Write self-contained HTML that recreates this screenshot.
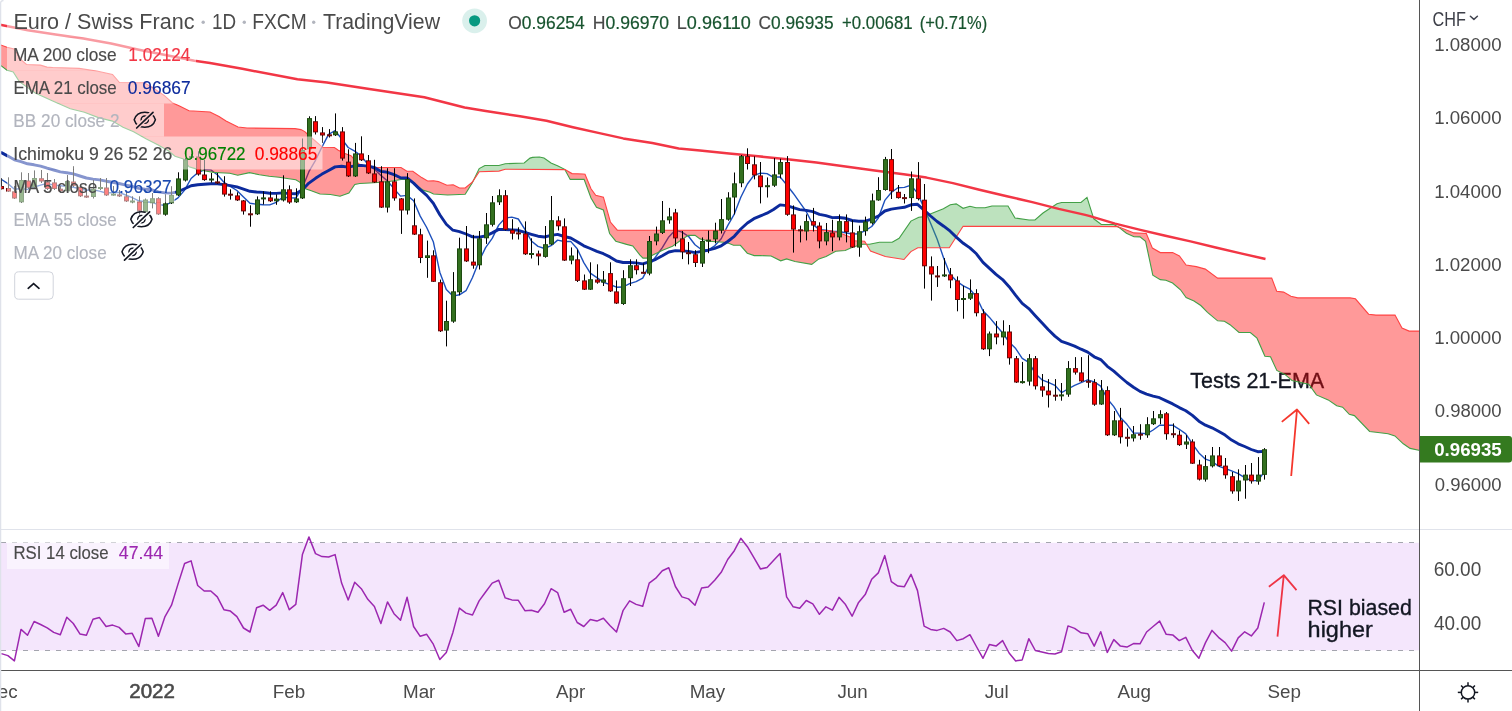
<!DOCTYPE html>
<html><head><meta charset="utf-8"><style>
html,body{margin:0;padding:0;background:#fff;}
body{width:1512px;height:711px;overflow:hidden;}
svg{display:block;will-change:transform;}
text{font-family:"Liberation Sans",sans-serif;}
.ann{font-weight:normal;}
</style></head><body>
<svg width="1512" height="711" viewBox="0 0 1512 711">
<defs><mask id="eyecut" maskUnits="userSpaceOnUse" x="-20" y="-20" width="40" height="40"><rect x="-20" y="-20" width="40" height="40" fill="#fff"/><path d="M-12,11.6 L12,-11" stroke="#000" stroke-width="4.6"/></mask></defs>
<rect width="1512" height="711" fill="#fff"/>
<rect x="0" y="542.8" width="1419.5" height="107.6" fill="#f4e6fc"/>
<path d="M1,542.5 H1419" stroke="#9598a1" stroke-width="1" stroke-dasharray="5,6" opacity="0.85"/>
<path d="M1,650.5 H1419" stroke="#9598a1" stroke-width="1" stroke-dasharray="5,6" opacity="0.85"/>
<path d="M0.0,178.5 L7.9,183.6 L14.4,189.2 L21.0,188.6 L27.5,189.4 L34.1,187.2 L40.6,185.2 L47.2,183.3 L53.7,185.1 L60.3,185.8 L66.8,186.4 L73.3,187.2 L79.9,188.7 L86.4,190.3 L93.0,189.8 L99.5,191.1 L106.1,193.0 L112.6,192.6 L119.1,192.4 L125.7,195.0 L132.2,197.7 L138.8,200.8 L145.3,201.8 L151.9,202.2 L158.4,204.8 L165.0,205.3 L171.5,202.1 L178.0,197.9 L184.6,190.1 L191.1,178.5 L197.7,172.8 L204.2,169.8 L210.8,169.9 L217.3,174.7 L223.9,182.3 L230.4,186.4 L236.9,190.5 L243.5,197.0 L250.0,203.3 L256.6,204.2 L263.1,204.7 L269.7,204.9 L276.2,202.3 L282.7,197.2 L289.3,197.8 L295.8,198.0 L302.4,187.8 L308.9,171.7 L315.5,160.3 L322.0,146.9 L328.6,134.4 L335.1,130.6 L341.6,138.7 L348.2,147.5 L354.7,151.1 L361.3,156.0 L367.8,164.4 L374.4,169.2 L380.9,175.4 L387.5,181.0 L394.0,188.6 L400.5,196.1 L407.1,195.4 L413.6,200.8 L420.2,216.1 L426.7,227.5 L433.3,241.7 L439.8,272.2 L446.3,289.5 L452.9,296.1 L459.4,294.8 L466.0,290.7 L472.5,277.5 L479.1,261.0 L485.6,247.6 L492.2,238.4 L498.7,225.1 L505.2,218.0 L511.8,217.1 L518.3,219.0 L524.9,229.4 L531.4,241.0 L538.0,246.4 L544.5,248.5 L551.1,245.7 L557.6,240.1 L564.1,241.5 L570.7,241.4 L577.2,248.7 L583.8,262.6 L590.3,273.2 L596.9,277.6 L603.4,282.4 L609.9,284.5 L616.5,287.2 L623.0,287.0 L629.6,283.6 L636.1,281.7 L642.7,278.1 L649.2,265.6 L655.8,256.6 L662.3,247.7 L668.8,236.9 L675.4,229.9 L681.9,232.2 L688.5,236.3 L695.0,244.8 L701.6,249.8 L708.1,250.1 L714.7,245.8 L721.2,238.7 L727.7,225.6 L734.3,214.1 L740.8,197.3 L747.4,184.0 L753.9,175.3 L760.5,173.2 L767.0,173.6 L773.5,177.3 L780.1,176.9 L786.6,184.7 L793.2,193.2 L799.7,202.4 L806.3,211.7 L812.8,224.4 L819.4,229.8 L825.9,230.3 L832.4,231.5 L839.0,231.5 L845.5,232.8 L852.1,234.0 L858.6,233.9 L865.2,230.7 L871.7,226.5 L878.3,218.1 L884.8,200.4 L891.3,192.5 L897.9,187.8 L904.4,187.4 L911.0,185.1 L917.5,193.1 L924.1,208.1 L930.6,223.3 L937.1,239.0 L943.7,258.2 L950.2,274.5 L956.8,281.2 L963.3,285.9 L969.9,289.2 L976.4,296.9 L983.0,310.7 L989.5,317.4 L996.0,325.3 L1002.6,333.0 L1009.1,342.0 L1015.7,348.6 L1022.2,358.3 L1028.8,362.4 L1035.3,373.4 L1041.9,379.8 L1048.4,382.4 L1054.9,385.3 L1061.5,392.6 L1068.0,389.0 L1074.6,385.4 L1081.1,382.6 L1087.7,379.8 L1094.2,381.8 L1100.7,386.2 L1107.3,398.8 L1113.8,406.6 L1120.4,417.6 L1126.9,424.3 L1133.5,433.1 L1140.0,433.1 L1146.6,433.8 L1153.1,430.0 L1159.6,425.2 L1166.2,425.2 L1172.7,425.1 L1179.3,429.3 L1185.8,433.9 L1192.4,443.8 L1198.9,452.9 L1205.5,459.2 L1212.0,461.3 L1218.5,466.2 L1225.1,468.5 L1231.6,470.9 L1238.2,473.7 L1244.7,477.6 L1251.3,480.6 L1257.8,480.5 L1264.3,472.0" fill="none" stroke="#1d50bc" stroke-width="1.4" stroke-linejoin="round"/>
<text x="1190.16" y="387.8" font-size="22.40" font-weight="normal" textLength="134.03" lengthAdjust="spacingAndGlyphs" stroke="#131722" stroke-width="0.35"><tspan fill="#131722">Tests 21-EMA</tspan></text>
<path d="M0.0,64.9 L7.0,70.2 L13.2,71.9 L14.0,73.2 L19.3,81.6 L21.2,83.0 L26.5,86.8 L35.2,93.0 L40.4,95.3 L47.0,98.3 L52.7,100.9 L70.3,108.8 L79.1,111.0 L84.4,112.3 L96.7,117.0 L98.4,117.6 L112.5,121.1 L119.5,125.2 L123.0,127.3 L133.6,131.7 L144.1,137.7 L145.9,138.7 L152.9,142.2 L158.2,144.9 L164.4,148.5 L168.7,151.0 L172.3,154.0 L175.0,156.2 L180.0,157.8 L183.5,159.0 L189.0,166.8 L196.0,168.9 L205.3,171.0 L210.0,171.8 L213.7,172.4 L219.0,172.7 L220.0,172.8 L226.0,173.1 L229.8,173.3 L237.7,175.3 L238.0,175.2 L247.0,173.2 L249.5,172.6 L259.4,174.8 L269.2,176.2 L279.0,177.2 L288.9,178.7 L295.0,179.6 L295.8,179.7 L299.7,182.1 L300.9,183.7 L304.6,188.5 L304.8,188.6 L307.8,189.6 L310.6,190.5 L313.0,191.4 L320.0,194.0 L322.6,194.1 L330.5,194.5 L334.4,195.2 L338.3,196.0 L340.0,196.3 L344.2,194.8 L348.9,193.1 L351.0,190.0 L354.0,185.6 L354.8,184.4 L359.0,183.6 L359.7,183.5 L364.0,183.3 L369.5,183.0 L377.4,182.5 L389.2,181.5 L401.0,179.5 L406.9,179.5 L408.9,179.5 L412.8,182.7 L414.8,184.4 L421.7,189.1 L423.7,190.4 L427.6,191.5 L430.0,192.2 L433.5,194.0 L438.4,194.3 L446.9,195.0 L447.6,195.0 L453.2,194.7 L459.5,194.5 L465.2,194.2 L472.2,183.0 L473.5,180.4 L473.5,180.4 L472.2,182.3 L465.2,188.0 L459.5,188.0 L453.2,184.8 L447.6,185.2 L446.9,185.2 L438.4,181.6 L433.5,180.8 L430.0,180.9 L427.6,181.0 L423.7,178.8 L421.7,177.6 L414.8,172.6 L412.8,171.2 L408.9,171.2 L406.9,171.2 L401.0,167.5 L389.2,167.5 L377.4,167.5 L369.5,166.6 L364.0,166.0 L359.7,164.3 L359.0,164.0 L354.8,159.9 L354.0,159.1 L351.0,155.7 L348.9,154.9 L344.2,153.2 L340.0,151.1 L338.3,150.3 L334.4,147.5 L330.5,147.4 L322.6,147.3 L320.0,145.1 L313.0,139.0 L310.6,136.9 L307.8,134.5 L304.8,131.6 L304.6,131.5 L300.9,129.6 L299.7,129.4 L295.8,128.7 L295.0,128.6 L288.9,128.5 L279.0,128.4 L269.2,128.3 L259.4,128.2 L249.5,128.0 L247.0,128.0 L238.0,127.0 L237.7,126.8 L229.8,122.9 L226.0,121.0 L220.0,117.2 L219.0,116.6 L213.7,113.9 L210.0,112.0 L205.3,111.7 L196.0,111.2 L189.0,110.8 L183.5,108.0 L180.0,106.2 L175.0,103.9 L172.3,102.7 L168.7,99.5 L164.4,95.6 L158.2,91.3 L152.9,87.7 L145.9,83.8 L144.1,82.8 L133.6,82.7 L123.0,82.5 L119.5,82.5 L112.5,74.5 L98.4,71.4 L96.7,71.0 L84.4,69.2 L79.1,68.4 L70.3,68.1 L52.7,67.5 L47.0,67.1 L40.4,65.1 L35.2,64.9 L26.5,64.5 L21.2,59.8 L19.3,57.0 L14.0,49.0 L13.2,48.8 L7.0,47.2 L0.0,44.7 Z" fill="#ff0000" fill-opacity="0.4"/>
<path d="M473.5,180.4 L479.2,168.6 L484.9,165.5 L498.9,165.5 L505.2,163.7 L524.2,163.0 L530.0,158.1 L532.5,157.4 L539.4,157.0 L544.0,158.0 L551.0,163.0 L558.0,166.0 L564.7,169.3 L564.9,169.6 L564.9,169.6 L564.7,169.6 L558.0,169.6 L551.0,169.5 L544.0,169.5 L539.4,169.5 L532.5,169.4 L530.0,169.4 L524.2,169.4 L505.2,169.3 L498.9,171.1 L484.9,171.6 L479.2,171.8 L473.5,180.4 Z" fill="#4caf50" fill-opacity="0.37"/>
<path d="M564.9,169.6 L565.0,169.9 L570.2,179.4 L572.0,179.4 L583.0,179.4 L584.1,179.4 L585.0,181.8 L591.0,198.0 L595.7,205.9 L596.5,207.2 L603.4,210.0 L609.6,233.5 L610.4,234.5 L615.8,241.2 L617.3,241.6 L626.6,244.4 L632.8,246.0 L640.0,255.1 L643.0,258.1 L646.9,258.1 L652.8,255.1 L662.6,250.2 L672.5,246.3 L679.4,241.3 L688.2,235.4 L695.1,235.4 L700.0,238.9 L708.9,241.3 L723.7,242.3 L728.6,243.3 L733.5,245.3 L740.4,245.3 L747.3,253.2 L754.2,255.6 L760.0,255.6 L771.1,256.0 L780.7,260.8 L786.6,258.9 L795.0,261.5 L811.7,264.4 L818.9,258.9 L826.1,256.5 L830.0,254.3 L835.7,251.2 L840.0,250.9 L845.2,250.5 L850.0,248.3 L852.4,247.2 L855.0,246.4 L862.6,244.2 L864.6,244.2 L866.3,244.2 L866.3,244.2 L864.6,241.3 L862.6,241.2 L855.0,240.8 L852.4,238.8 L850.0,237.0 L845.2,235.1 L840.0,233.0 L835.7,231.9 L830.0,230.5 L826.1,230.5 L818.9,230.5 L811.7,230.5 L795.0,230.4 L786.6,230.4 L780.7,230.4 L771.1,230.4 L760.0,230.4 L754.2,230.4 L747.3,230.3 L740.4,230.3 L733.5,230.3 L728.6,230.3 L723.7,230.3 L708.9,230.3 L700.0,230.3 L695.1,230.2 L688.2,230.2 L679.4,230.2 L672.5,230.2 L662.6,230.2 L652.8,230.2 L646.9,230.2 L643.0,230.1 L640.0,230.1 L632.8,230.1 L626.6,230.1 L617.3,230.1 L615.8,228.3 L610.4,222.0 L609.6,219.2 L603.4,197.2 L596.5,195.4 L595.7,195.2 L591.0,188.7 L585.0,174.3 L584.1,174.2 L583.0,174.0 L572.0,173.6 L570.2,172.6 L565.0,169.6 L564.9,169.6 Z" fill="#ff0000" fill-opacity="0.4"/>
<path d="M866.3,244.2 L869.5,244.2 L870.5,244.0 L879.4,242.3 L885.3,242.3 L892.2,242.3 L899.1,238.3 L904.0,231.2 L910.9,221.1 L917.8,217.7 L918.8,217.2 L922.7,216.9 L943.4,208.8 L949.3,205.4 L950.3,204.8 L956.2,203.9 L963.1,208.3 L970.0,206.3 L975.9,207.8 L985.0,207.8 L992.0,206.0 L1008.0,206.0 L1015.0,218.0 L1029.0,220.0 L1035.0,220.0 L1043.0,213.0 L1057.0,203.7 L1061.6,202.5 L1081.0,202.5 L1087.0,197.4 L1090.0,206.8 L1093.8,218.8 L1101.3,224.5 L1113.9,224.5 L1117.5,226.6 L1117.5,226.6 L1113.9,226.6 L1101.3,226.5 L1093.8,226.4 L1090.0,226.4 L1087.0,226.4 L1081.0,226.4 L1061.6,226.4 L1057.0,226.4 L1043.0,226.4 L1035.0,226.4 L1029.0,226.4 L1015.0,226.3 L1008.0,226.3 L992.0,226.3 L985.0,226.3 L975.9,226.3 L970.0,226.3 L963.1,226.3 L956.2,237.0 L950.3,246.1 L949.3,247.7 L943.4,247.7 L922.7,247.7 L918.8,247.7 L917.8,247.7 L910.9,251.6 L904.0,259.5 L899.1,258.7 L892.2,257.6 L885.3,256.5 L879.4,254.3 L870.5,251.1 L869.5,249.4 L866.3,244.2 Z" fill="#4caf50" fill-opacity="0.37"/>
<path d="M1117.5,226.6 L1117.6,226.6 L1118.9,227.4 L1126.4,233.3 L1134.0,236.7 L1140.0,236.9 L1145.6,241.4 L1146.3,244.7 L1152.4,273.2 L1152.8,275.1 L1160.3,279.6 L1165.9,280.3 L1172.6,283.0 L1179.4,288.9 L1180.5,289.8 L1186.1,297.6 L1194.0,301.0 L1196.3,302.5 L1200.8,305.5 L1205.3,310.1 L1207.5,312.3 L1217.6,320.8 L1224.4,321.3 L1230.0,324.7 L1239.0,332.5 L1250.3,332.5 L1257.0,338.2 L1264.9,356.2 L1270.5,356.8 L1271.7,359.4 L1276.7,370.2 L1276.8,370.4 L1283.6,373.8 L1285.2,374.6 L1290.9,379.5 L1292.0,380.5 L1297.7,381.8 L1308.8,384.2 L1316.4,394.9 L1328.2,399.9 L1336.7,405.8 L1342.6,407.2 L1349.3,414.3 L1350.0,414.5 L1354.4,415.6 L1355.4,416.6 L1368.6,430.5 L1369.6,431.5 L1375.9,432.2 L1378.0,432.5 L1388.1,433.7 L1394.9,435.9 L1395.0,436.0 L1402.0,442.6 L1403.3,443.8 L1409.1,447.7 L1410.1,448.4 L1420.0,450.5 L1420.0,331.1 L1410.1,331.1 L1409.1,331.1 L1403.3,328.6 L1402.0,328.1 L1395.0,315.1 L1394.9,315.1 L1388.1,315.1 L1378.0,315.1 L1375.9,315.1 L1369.6,314.3 L1368.6,314.2 L1355.4,298.8 L1354.4,298.6 L1350.0,297.9 L1349.3,297.9 L1342.6,297.9 L1336.7,297.9 L1328.2,297.9 L1316.4,297.9 L1308.8,297.9 L1297.7,297.9 L1292.0,296.5 L1290.9,296.2 L1285.2,293.0 L1283.6,292.1 L1276.8,291.3 L1276.7,291.3 L1271.7,278.1 L1270.5,278.1 L1264.9,278.1 L1257.0,278.1 L1250.3,278.1 L1239.0,278.1 L1230.0,278.1 L1224.4,278.1 L1217.6,278.1 L1207.5,270.7 L1205.3,269.1 L1200.8,267.9 L1196.3,266.6 L1194.0,266.2 L1186.1,265.0 L1180.5,257.5 L1179.4,256.0 L1172.6,252.6 L1165.9,252.6 L1160.3,252.6 L1152.8,248.3 L1152.4,248.1 L1146.3,233.5 L1145.6,233.5 L1140.0,233.2 L1134.0,232.9 L1126.4,230.0 L1118.9,227.1 L1117.6,226.6 L1117.5,226.6 Z" fill="#ff0000" fill-opacity="0.4"/>
<path d="M0.0,64.9 L7.0,70.2 L13.2,71.9 L19.3,81.6 L35.2,93.0 L52.7,100.9 L70.3,108.8 L84.4,112.3 L98.4,117.6 L112.5,121.1 L123.0,127.3 L133.6,131.7 L145.9,138.7 L158.2,144.9 L168.7,151.0 L175.0,156.2 L183.5,159.0 L189.0,166.8 L196.0,168.9 L205.3,171.0 L213.7,172.4 L220.0,172.8 L229.8,173.3 L237.7,175.3 L249.5,172.6 L259.4,174.8 L269.2,176.2 L279.0,177.2 L288.9,178.7 L295.8,179.7 L299.7,182.1 L304.6,188.5 L310.6,190.5 L320.0,194.0 L330.5,194.5 L340.0,196.3 L348.9,193.1 L354.8,184.4 L359.7,183.5 L369.5,183.0 L377.4,182.5 L389.2,181.5 L401.0,179.5 L408.9,179.5 L414.8,184.4 L423.7,190.4 L430.0,192.2 L433.5,194.0 L447.6,195.0 L465.2,194.2 L472.2,183.0 L479.2,168.6 L484.9,165.5 L498.9,165.5 L505.2,163.7 L524.2,163.0 L530.0,158.1 L532.5,157.4 L539.4,157.0 L544.0,158.0 L551.0,163.0 L558.0,166.0 L564.7,169.3 L570.2,179.4 L584.1,179.4 L591.0,198.0 L596.5,207.2 L603.4,210.0 L609.6,233.5 L615.8,241.2 L626.6,244.4 L632.8,246.0 L640.0,255.1 L643.0,258.1 L646.9,258.1 L652.8,255.1 L662.6,250.2 L672.5,246.3 L679.4,241.3 L688.2,235.4 L695.1,235.4 L700.0,238.9 L708.9,241.3 L723.7,242.3 L728.6,243.3 L733.5,245.3 L740.4,245.3 L747.3,253.2 L754.2,255.6 L760.0,255.6 L771.1,256.0 L780.7,260.8 L786.6,258.9 L795.0,261.5 L811.7,264.4 L818.9,258.9 L826.1,256.5 L835.7,251.2 L845.2,250.5 L852.4,247.2 L862.6,244.2 L869.5,244.2 L879.4,242.3 L892.2,242.3 L899.1,238.3 L910.9,221.1 L918.8,217.2 L922.7,216.9 L943.4,208.8 L950.3,204.8 L956.2,203.9 L963.1,208.3 L970.0,206.3 L975.9,207.8 L985.0,207.8 L992.0,206.0 L1008.0,206.0 L1015.0,218.0 L1029.0,220.0 L1035.0,220.0 L1043.0,213.0 L1057.0,203.7 L1061.6,202.5 L1081.0,202.5 L1087.0,197.4 L1093.8,218.8 L1101.3,224.5 L1113.9,224.5 L1118.9,227.4 L1126.4,233.3 L1134.0,236.7 L1140.0,236.9 L1145.6,241.4 L1152.8,275.1 L1160.3,279.6 L1165.9,280.3 L1172.6,283.0 L1180.5,289.8 L1186.1,297.6 L1194.0,301.0 L1200.8,305.5 L1207.5,312.3 L1217.6,320.8 L1224.4,321.3 L1230.0,324.7 L1239.0,332.5 L1250.3,332.5 L1257.0,338.2 L1264.9,356.2 L1270.5,356.8 L1276.8,370.4 L1285.2,374.6 L1292.0,380.5 L1308.8,384.2 L1316.4,394.9 L1328.2,399.9 L1336.7,405.8 L1342.6,407.2 L1349.3,414.3 L1354.4,415.6 L1369.6,431.5 L1378.0,432.5 L1388.1,433.7 L1394.9,435.9 L1403.3,443.8 L1410.1,448.4 L1420.0,450.5" fill="none" stroke="#43a047" stroke-width="1.1"/>
<path d="M0.0,44.7 L7.0,47.2 L14.0,49.0 L21.2,59.8 L26.5,64.5 L40.4,65.1 L47.0,67.1 L52.7,67.5 L79.1,68.4 L96.7,71.0 L112.5,74.5 L119.5,82.5 L144.1,82.8 L152.9,87.7 L164.4,95.6 L172.3,102.7 L180.0,106.2 L189.0,110.8 L210.0,112.0 L219.0,116.6 L226.0,121.0 L238.0,127.0 L247.0,128.0 L295.0,128.6 L300.9,129.6 L304.8,131.6 L307.8,134.5 L313.0,139.0 L322.6,147.3 L334.4,147.5 L338.3,150.3 L344.2,153.2 L351.0,155.7 L354.0,159.1 L359.0,164.0 L364.0,166.0 L377.4,167.5 L401.0,167.5 L406.9,171.2 L412.8,171.2 L421.7,177.6 L427.6,181.0 L433.5,180.8 L438.4,181.6 L446.9,185.2 L453.2,184.8 L459.5,188.0 L465.2,188.0 L472.2,182.3 L479.2,171.8 L498.9,171.1 L505.2,169.3 L565.0,169.6 L572.0,173.6 L583.0,174.0 L585.0,174.3 L591.0,188.7 L595.7,195.2 L603.4,197.2 L610.4,222.0 L617.3,230.1 L830.0,230.5 L840.0,233.0 L850.0,237.0 L855.0,240.8 L864.6,241.3 L870.5,251.1 L885.3,256.5 L904.0,259.5 L910.9,251.6 L917.8,247.7 L949.3,247.7 L963.1,226.3 L1090.0,226.4 L1117.6,226.6 L1134.0,232.9 L1146.3,233.5 L1152.4,248.1 L1160.3,252.6 L1172.6,252.6 L1179.4,256.0 L1186.1,265.0 L1196.3,266.6 L1205.3,269.1 L1217.6,278.1 L1271.7,278.1 L1276.7,291.3 L1283.6,292.1 L1290.9,296.2 L1297.7,297.9 L1350.0,297.9 L1355.4,298.8 L1368.6,314.2 L1375.9,315.1 L1395.0,315.1 L1402.0,328.1 L1409.1,331.1 L1420.0,331.1" fill="none" stroke="#ff4444" stroke-width="1.1"/>
<path d="M0.0,24.8 L27.8,30.3 L55.6,34.4 L83.3,38.6 L111.1,43.5 L138.9,49.7 L166.7,55.3 L194.4,60.8 L210.0,62.9 L242.3,68.8 L297.4,79.3 L327.0,82.5 L369.3,88.9 L424.3,97.3 L464.6,107.5 L485.7,111.1 L520.0,116.2 L546.5,120.8 L572.9,127.2 L599.4,133.1 L623.2,138.4 L652.3,143.1 L678.7,148.4 L700.0,150.6 L729.1,153.4 L758.2,156.3 L787.3,159.2 L816.4,162.6 L845.5,166.5 L874.6,170.6 L903.7,174.2 L926.5,177.6 L952.9,183.1 L979.4,189.8 L1005.8,196.0 L1032.3,202.1 L1058.7,208.9 L1085.2,214.9 L1090.0,216.1 L1115.1,223.6 L1140.3,229.9 L1165.4,235.8 L1190.5,241.4 L1215.7,247.5 L1240.8,253.4 L1265.5,259.0" fill="none" stroke="#f23645" stroke-width="2.5" stroke-linejoin="round"/>
<path d="M0.0,152.6 L1.4,152.6 L7.9,156.1 L14.4,159.8 L21.0,161.6 L27.5,163.8 L34.1,164.8 L40.6,166.2 L47.2,168.2 L53.7,170.0 L60.3,171.9 L66.8,172.7 L73.3,173.9 L79.9,176.0 L86.4,178.0 L93.0,179.1 L99.5,179.9 L106.1,181.2 L112.6,182.3 L119.1,183.5 L125.7,185.1 L132.2,186.3 L138.8,188.4 L145.3,189.2 L151.9,189.8 L158.4,191.9 L165.0,192.9 L171.5,193.1 L178.0,191.7 L184.6,188.7 L191.1,185.8 L197.7,184.7 L204.2,184.3 L210.8,183.8 L217.3,183.7 L223.9,184.6 L230.4,185.6 L236.9,186.9 L243.5,189.1 L250.0,191.3 L256.6,192.0 L263.1,192.4 L269.7,193.2 L276.2,193.4 L282.7,192.9 L289.3,193.6 L295.8,193.8 L302.4,189.7 L308.9,183.1 L315.5,178.3 L322.0,174.1 L328.6,170.4 L335.1,166.9 L341.6,166.2 L348.2,167.1 L354.7,165.8 L361.3,165.4 L367.8,166.1 L374.4,167.5 L380.9,171.4 L387.5,172.3 L394.0,174.6 L400.5,177.8 L407.1,178.0 L413.6,183.1 L420.2,189.6 L426.7,195.4 L433.3,203.3 L439.8,214.7 L446.3,224.2 L452.9,230.2 L459.4,231.6 L466.0,234.0 L472.5,236.9 L479.1,237.1 L485.6,236.0 L492.2,232.9 L498.7,229.4 L505.2,229.5 L511.8,229.9 L518.3,230.3 L524.9,232.4 L531.4,234.3 L538.0,236.2 L544.5,237.0 L551.1,235.4 L557.6,234.4 L564.1,236.5 L570.7,238.0 L577.2,241.7 L583.8,245.8 L590.3,248.5 L596.9,251.4 L603.4,253.7 L609.9,256.9 L616.5,261.0 L623.0,262.5 L629.6,262.5 L636.1,262.9 L642.7,263.9 L649.2,261.9 L655.8,259.3 L662.3,255.8 L668.8,252.0 L675.4,250.7 L681.9,250.9 L688.5,251.4 L695.0,252.6 L701.6,251.4 L708.1,250.2 L714.7,248.4 L721.2,245.8 L727.7,241.5 L734.3,236.3 L740.8,229.0 L747.4,223.0 L753.9,218.7 L760.5,215.9 L767.0,213.2 L773.5,209.5 L780.1,204.9 L786.6,205.6 L793.2,207.6 L799.7,209.6 L806.3,210.4 L812.8,211.7 L819.4,214.3 L825.9,215.7 L832.4,217.6 L839.0,217.5 L845.5,218.3 L852.1,220.5 L858.6,221.2 L865.2,221.2 L871.7,219.1 L878.3,216.2 L884.8,211.0 L891.3,209.1 L897.9,208.1 L904.4,207.3 L911.0,204.8 L917.5,204.3 L924.1,210.1 L930.6,216.0 L937.1,221.5 L943.7,226.2 L950.2,231.2 L956.8,237.6 L963.3,243.3 L969.9,247.9 L976.4,253.8 L983.0,262.4 L989.5,268.4 L996.0,274.4 L1002.6,279.6 L1009.1,286.7 L1015.7,295.4 L1022.2,303.4 L1028.8,308.6 L1035.3,315.7 L1041.9,322.7 L1048.4,329.7 L1054.9,336.1 L1061.5,341.4 L1068.0,343.7 L1074.6,346.1 L1081.1,349.2 L1087.7,352.1 L1094.2,356.8 L1100.7,359.6 L1107.3,366.3 L1113.8,371.2 L1120.4,377.0 L1126.9,382.5 L1133.5,387.2 L1140.0,391.4 L1146.6,394.2 L1153.1,396.2 L1159.6,397.7 L1166.2,400.9 L1172.7,403.9 L1179.3,407.6 L1185.8,410.7 L1192.4,415.4 L1198.9,421.2 L1205.5,425.2 L1212.0,427.8 L1218.5,431.2 L1225.1,435.1 L1231.6,440.1 L1238.2,443.8 L1244.7,446.5 L1251.3,449.5 L1257.8,451.7 L1264.3,451.4" fill="none" stroke="#0c2a9c" stroke-width="2.9" stroke-linejoin="round" stroke-linecap="round"/>
<rect x="1" y="178.2" width="1" height="11.3" fill="#000"/>
<rect x="-1" y="186.0" width="5" height="3.2" fill="#6b0b0b"/>
<rect x="0" y="187.0" width="3" height="1.2" fill="#ff0000"/>
<rect x="8" y="177.3" width="1" height="14.7" fill="#000"/>
<rect x="6" y="188.0" width="5" height="3.6" fill="#6b0b0b"/>
<rect x="7" y="189.0" width="3" height="1.6" fill="#ff0000"/>
<rect x="14" y="186.0" width="1" height="13.0" fill="#000"/>
<rect x="12" y="191.3" width="5" height="7.2" fill="#6b0b0b"/>
<rect x="13" y="192.3" width="3" height="5.2" fill="#ff0000"/>
<rect x="21" y="172.3" width="1" height="30.7" fill="#000"/>
<rect x="19" y="180.0" width="5" height="22.3" fill="#1d4a10"/>
<rect x="20" y="181.0" width="3" height="20.3" fill="#33701f"/>
<rect x="28" y="173.0" width="1" height="16.0" fill="#000"/>
<rect x="26" y="180.5" width="5" height="7.3" fill="#6b0b0b"/>
<rect x="27" y="181.5" width="3" height="5.3" fill="#ff0000"/>
<rect x="34" y="170.4" width="1" height="17.6" fill="#000"/>
<rect x="32" y="178.0" width="5" height="9.5" fill="#1d4a10"/>
<rect x="33" y="179.0" width="3" height="7.5" fill="#33701f"/>
<rect x="41" y="170.0" width="1" height="13.0" fill="#000"/>
<rect x="39" y="178.2" width="5" height="3.3" fill="#6b0b0b"/>
<rect x="40" y="179.2" width="3" height="1.3" fill="#ff0000"/>
<rect x="47" y="173.0" width="1" height="17.0" fill="#000"/>
<rect x="45" y="181.8" width="5" height="7.2" fill="#6b0b0b"/>
<rect x="46" y="182.8" width="3" height="5.2" fill="#ff0000"/>
<rect x="54" y="179.0" width="1" height="11.0" fill="#000"/>
<rect x="52" y="182.4" width="5" height="6.6" fill="#6b0b0b"/>
<rect x="53" y="183.4" width="3" height="4.6" fill="#ff0000"/>
<rect x="60" y="186.0" width="1" height="7.0" fill="#000"/>
<rect x="58" y="188.7" width="5" height="2.6" fill="#6b0b0b"/>
<rect x="59" y="189.7" width="3" height="0.6" fill="#ff0000"/>
<rect x="67" y="175.0" width="1" height="17.0" fill="#000"/>
<rect x="65" y="181.0" width="5" height="10.3" fill="#1d4a10"/>
<rect x="66" y="182.0" width="3" height="8.3" fill="#33701f"/>
<rect x="73" y="166.2" width="1" height="20.8" fill="#000"/>
<rect x="71" y="181.5" width="5" height="4.3" fill="#6b0b0b"/>
<rect x="72" y="182.5" width="3" height="2.3" fill="#ff0000"/>
<rect x="80" y="185.0" width="1" height="12.0" fill="#000"/>
<rect x="78" y="186.8" width="5" height="9.5" fill="#6b0b0b"/>
<rect x="79" y="187.8" width="3" height="7.5" fill="#ff0000"/>
<rect x="86" y="190.0" width="1" height="8.0" fill="#000"/>
<rect x="84" y="195.6" width="5" height="2" fill="#6b0b0b"/>
<rect x="93" y="180.0" width="1" height="18.5" fill="#000"/>
<rect x="91" y="188.7" width="5" height="8.3" fill="#1d4a10"/>
<rect x="92" y="189.7" width="3" height="6.3" fill="#33701f"/>
<rect x="100" y="178.0" width="1" height="12.0" fill="#000"/>
<rect x="98" y="187.0" width="5" height="2" fill="#1d4a10"/>
<rect x="106" y="178.0" width="1" height="18.0" fill="#000"/>
<rect x="104" y="187.5" width="5" height="7.9" fill="#6b0b0b"/>
<rect x="105" y="188.5" width="3" height="5.9" fill="#ff0000"/>
<rect x="113" y="186.0" width="1" height="9.7" fill="#000"/>
<rect x="111" y="193.6" width="5" height="2" fill="#1d4a10"/>
<rect x="119" y="190.0" width="1" height="7.0" fill="#000"/>
<rect x="117" y="194.4" width="5" height="2" fill="#6b0b0b"/>
<rect x="126" y="192.0" width="1" height="10.0" fill="#000"/>
<rect x="124" y="196.3" width="5" height="5.1" fill="#6b0b0b"/>
<rect x="125" y="197.3" width="3" height="3.1" fill="#ff0000"/>
<rect x="132" y="196.3" width="1" height="7.0" fill="#000"/>
<rect x="130" y="200.5" width="5" height="2" fill="#1d4a10"/>
<rect x="139" y="196.3" width="1" height="18.4" fill="#000"/>
<rect x="137" y="201.4" width="5" height="9.5" fill="#6b0b0b"/>
<rect x="138" y="202.4" width="3" height="7.5" fill="#ff0000"/>
<rect x="145" y="198.5" width="1" height="14.5" fill="#000"/>
<rect x="143" y="199.5" width="5" height="12.7" fill="#1d4a10"/>
<rect x="144" y="200.5" width="3" height="10.7" fill="#33701f"/>
<rect x="152" y="193.0" width="1" height="15.4" fill="#000"/>
<rect x="150" y="198.2" width="5" height="5.1" fill="#1d4a10"/>
<rect x="151" y="199.2" width="3" height="3.1" fill="#33701f"/>
<rect x="158" y="197.2" width="1" height="17.8" fill="#000"/>
<rect x="156" y="198.2" width="5" height="16.2" fill="#6b0b0b"/>
<rect x="157" y="199.2" width="3" height="14.2" fill="#ff0000"/>
<rect x="165" y="194.2" width="1" height="21.5" fill="#000"/>
<rect x="163" y="203.3" width="5" height="11.4" fill="#1d4a10"/>
<rect x="164" y="204.3" width="3" height="9.4" fill="#33701f"/>
<rect x="171" y="186.2" width="1" height="17.8" fill="#000"/>
<rect x="169" y="195.0" width="5" height="8.3" fill="#1d4a10"/>
<rect x="170" y="196.0" width="3" height="6.3" fill="#33701f"/>
<rect x="178" y="172.3" width="1" height="23.7" fill="#000"/>
<rect x="176" y="178.4" width="5" height="17.0" fill="#1d4a10"/>
<rect x="177" y="179.4" width="3" height="15.0" fill="#33701f"/>
<rect x="185" y="158.0" width="1" height="23.5" fill="#000"/>
<rect x="183" y="159.4" width="5" height="21.1" fill="#1d4a10"/>
<rect x="184" y="160.4" width="3" height="19.1" fill="#33701f"/>
<rect x="191" y="154.0" width="1" height="5.0" fill="#000"/>
<rect x="189" y="156.0" width="5" height="2" fill="#1d4a10"/>
<rect x="198" y="151.3" width="1" height="24.3" fill="#000"/>
<rect x="196" y="156.5" width="5" height="18.0" fill="#6b0b0b"/>
<rect x="197" y="157.5" width="3" height="16.0" fill="#ff0000"/>
<rect x="204" y="160.0" width="1" height="20.8" fill="#000"/>
<rect x="202" y="174.5" width="5" height="5.6" fill="#6b0b0b"/>
<rect x="203" y="175.5" width="3" height="3.6" fill="#ff0000"/>
<rect x="211" y="173.0" width="1" height="9.6" fill="#000"/>
<rect x="209" y="178.5" width="5" height="2" fill="#1d4a10"/>
<rect x="217" y="173.0" width="1" height="11.0" fill="#000"/>
<rect x="215" y="181.4" width="5" height="2" fill="#6b0b0b"/>
<rect x="224" y="176.2" width="1" height="20.4" fill="#000"/>
<rect x="222" y="183.4" width="5" height="11.2" fill="#6b0b0b"/>
<rect x="223" y="184.4" width="3" height="9.2" fill="#ff0000"/>
<rect x="230" y="189.3" width="1" height="10.3" fill="#000"/>
<rect x="228" y="193.7" width="5" height="2" fill="#6b0b0b"/>
<rect x="237" y="192.3" width="1" height="8.7" fill="#000"/>
<rect x="235" y="195.4" width="5" height="5.0" fill="#6b0b0b"/>
<rect x="236" y="196.4" width="3" height="3.0" fill="#ff0000"/>
<rect x="243" y="200.0" width="1" height="14.6" fill="#000"/>
<rect x="241" y="200.4" width="5" height="11.0" fill="#6b0b0b"/>
<rect x="242" y="201.4" width="3" height="9.0" fill="#ff0000"/>
<rect x="250" y="205.3" width="1" height="21.4" fill="#000"/>
<rect x="248" y="213.3" width="5" height="2" fill="#6b0b0b"/>
<rect x="257" y="196.4" width="1" height="18.6" fill="#000"/>
<rect x="255" y="199.4" width="5" height="14.9" fill="#1d4a10"/>
<rect x="256" y="200.4" width="3" height="12.9" fill="#33701f"/>
<rect x="263" y="191.3" width="1" height="13.2" fill="#000"/>
<rect x="261" y="197.4" width="5" height="2" fill="#1d4a10"/>
<rect x="270" y="191.3" width="1" height="10.7" fill="#000"/>
<rect x="268" y="197.4" width="5" height="3.9" fill="#6b0b0b"/>
<rect x="269" y="198.4" width="3" height="1.9" fill="#ff0000"/>
<rect x="276" y="194.4" width="1" height="10.4" fill="#000"/>
<rect x="274" y="198.6" width="5" height="2.7" fill="#1d4a10"/>
<rect x="275" y="199.6" width="3" height="0.7" fill="#33701f"/>
<rect x="283" y="175.3" width="1" height="26.2" fill="#000"/>
<rect x="281" y="189.3" width="5" height="11.1" fill="#1d4a10"/>
<rect x="282" y="190.3" width="3" height="9.1" fill="#33701f"/>
<rect x="289" y="185.4" width="1" height="18.4" fill="#000"/>
<rect x="287" y="189.3" width="5" height="13.2" fill="#6b0b0b"/>
<rect x="288" y="190.3" width="3" height="11.2" fill="#ff0000"/>
<rect x="296" y="188.3" width="1" height="14.7" fill="#000"/>
<rect x="294" y="198.4" width="5" height="3.9" fill="#1d4a10"/>
<rect x="295" y="199.4" width="3" height="1.9" fill="#33701f"/>
<rect x="302" y="138.5" width="1" height="60.5" fill="#000"/>
<rect x="300" y="150.0" width="5" height="48.4" fill="#1d4a10"/>
<rect x="301" y="151.0" width="3" height="46.4" fill="#33701f"/>
<rect x="309" y="116.3" width="1" height="33.7" fill="#000"/>
<rect x="307" y="118.1" width="5" height="31.2" fill="#1d4a10"/>
<rect x="308" y="119.1" width="3" height="29.2" fill="#33701f"/>
<rect x="315" y="116.1" width="1" height="18.4" fill="#000"/>
<rect x="313" y="121.2" width="5" height="11.2" fill="#6b0b0b"/>
<rect x="314" y="122.2" width="3" height="9.2" fill="#ff0000"/>
<rect x="322" y="127.1" width="1" height="15.8" fill="#000"/>
<rect x="320" y="132.4" width="5" height="3.1" fill="#6b0b0b"/>
<rect x="321" y="133.4" width="3" height="1.1" fill="#ff0000"/>
<rect x="329" y="129.1" width="1" height="8.4" fill="#000"/>
<rect x="327" y="134.3" width="5" height="2" fill="#6b0b0b"/>
<rect x="335" y="113.4" width="1" height="22.6" fill="#000"/>
<rect x="333" y="131.4" width="5" height="3.9" fill="#1d4a10"/>
<rect x="334" y="132.4" width="3" height="1.9" fill="#33701f"/>
<rect x="342" y="127.1" width="1" height="33.5" fill="#000"/>
<rect x="340" y="131.4" width="5" height="27.2" fill="#6b0b0b"/>
<rect x="341" y="132.4" width="3" height="25.2" fill="#ff0000"/>
<rect x="348" y="149.3" width="1" height="27.7" fill="#000"/>
<rect x="346" y="161.6" width="5" height="14.8" fill="#6b0b0b"/>
<rect x="347" y="162.6" width="3" height="12.8" fill="#ff0000"/>
<rect x="355" y="142.9" width="1" height="34.1" fill="#000"/>
<rect x="353" y="153.4" width="5" height="23.0" fill="#1d4a10"/>
<rect x="354" y="154.4" width="3" height="21.0" fill="#33701f"/>
<rect x="361" y="136.3" width="1" height="24.7" fill="#000"/>
<rect x="359" y="153.4" width="5" height="6.9" fill="#6b0b0b"/>
<rect x="360" y="154.4" width="3" height="4.9" fill="#ff0000"/>
<rect x="368" y="155.0" width="1" height="19.0" fill="#000"/>
<rect x="366" y="160.3" width="5" height="13.1" fill="#6b0b0b"/>
<rect x="367" y="161.3" width="3" height="11.1" fill="#ff0000"/>
<rect x="374" y="159.8" width="1" height="23.2" fill="#000"/>
<rect x="372" y="173.4" width="5" height="9.1" fill="#6b0b0b"/>
<rect x="373" y="174.4" width="3" height="7.1" fill="#ff0000"/>
<rect x="381" y="166.2" width="1" height="41.8" fill="#000"/>
<rect x="379" y="181.3" width="5" height="26.3" fill="#6b0b0b"/>
<rect x="380" y="182.3" width="3" height="24.3" fill="#ff0000"/>
<rect x="387" y="168.2" width="1" height="44.3" fill="#000"/>
<rect x="385" y="181.3" width="5" height="26.3" fill="#1d4a10"/>
<rect x="386" y="182.3" width="3" height="24.3" fill="#33701f"/>
<rect x="394" y="168.2" width="1" height="32.5" fill="#000"/>
<rect x="392" y="181.3" width="5" height="17.1" fill="#6b0b0b"/>
<rect x="393" y="182.3" width="3" height="15.1" fill="#ff0000"/>
<rect x="401" y="198.0" width="1" height="35.9" fill="#000"/>
<rect x="399" y="198.4" width="5" height="12.1" fill="#6b0b0b"/>
<rect x="400" y="199.4" width="3" height="10.1" fill="#ff0000"/>
<rect x="407" y="173.1" width="1" height="41.4" fill="#000"/>
<rect x="405" y="179.0" width="5" height="31.5" fill="#1d4a10"/>
<rect x="406" y="180.0" width="3" height="29.5" fill="#33701f"/>
<rect x="414" y="198.4" width="1" height="36.6" fill="#000"/>
<rect x="412" y="225.3" width="5" height="9.3" fill="#6b0b0b"/>
<rect x="413" y="226.3" width="3" height="7.3" fill="#ff0000"/>
<rect x="420" y="228.7" width="1" height="34.4" fill="#000"/>
<rect x="418" y="234.3" width="5" height="23.7" fill="#6b0b0b"/>
<rect x="419" y="235.3" width="3" height="21.7" fill="#ff0000"/>
<rect x="427" y="240.6" width="1" height="37.2" fill="#000"/>
<rect x="425" y="255.3" width="5" height="2.7" fill="#1d4a10"/>
<rect x="426" y="256.3" width="3" height="0.7" fill="#33701f"/>
<rect x="433" y="250.3" width="1" height="31.7" fill="#000"/>
<rect x="431" y="255.3" width="5" height="26.5" fill="#6b0b0b"/>
<rect x="432" y="256.3" width="3" height="24.5" fill="#ff0000"/>
<rect x="440" y="279.6" width="1" height="52.4" fill="#000"/>
<rect x="438" y="282.2" width="5" height="49.1" fill="#6b0b0b"/>
<rect x="439" y="283.2" width="3" height="47.1" fill="#ff0000"/>
<rect x="446" y="300.7" width="1" height="45.7" fill="#000"/>
<rect x="444" y="321.0" width="5" height="9.6" fill="#1d4a10"/>
<rect x="445" y="322.0" width="3" height="7.6" fill="#33701f"/>
<rect x="453" y="272.1" width="1" height="50.7" fill="#000"/>
<rect x="451" y="291.3" width="5" height="30.3" fill="#1d4a10"/>
<rect x="452" y="292.3" width="3" height="28.3" fill="#33701f"/>
<rect x="459" y="237.7" width="1" height="57.6" fill="#000"/>
<rect x="457" y="248.4" width="5" height="43.9" fill="#1d4a10"/>
<rect x="458" y="249.4" width="3" height="41.9" fill="#33701f"/>
<rect x="466" y="226.0" width="1" height="36.0" fill="#000"/>
<rect x="464" y="248.4" width="5" height="13.0" fill="#6b0b0b"/>
<rect x="465" y="249.4" width="3" height="11.0" fill="#ff0000"/>
<rect x="473" y="234.9" width="1" height="33.8" fill="#000"/>
<rect x="471" y="261.6" width="5" height="4.0" fill="#6b0b0b"/>
<rect x="472" y="262.6" width="3" height="2.0" fill="#ff0000"/>
<rect x="479" y="231.0" width="1" height="38.5" fill="#000"/>
<rect x="477" y="238.3" width="5" height="27.0" fill="#1d4a10"/>
<rect x="478" y="239.3" width="3" height="25.0" fill="#33701f"/>
<rect x="486" y="213.0" width="1" height="30.9" fill="#000"/>
<rect x="484" y="224.3" width="5" height="14.0" fill="#1d4a10"/>
<rect x="485" y="225.3" width="3" height="12.0" fill="#33701f"/>
<rect x="492" y="196.0" width="1" height="30.5" fill="#000"/>
<rect x="490" y="202.3" width="5" height="22.5" fill="#1d4a10"/>
<rect x="491" y="203.3" width="3" height="20.5" fill="#33701f"/>
<rect x="499" y="189.3" width="1" height="15.7" fill="#000"/>
<rect x="497" y="195.2" width="5" height="7.1" fill="#1d4a10"/>
<rect x="498" y="196.2" width="3" height="5.1" fill="#33701f"/>
<rect x="505" y="190.1" width="1" height="40.4" fill="#000"/>
<rect x="503" y="195.2" width="5" height="34.6" fill="#6b0b0b"/>
<rect x="504" y="196.2" width="3" height="32.6" fill="#ff0000"/>
<rect x="512" y="219.2" width="1" height="20.3" fill="#000"/>
<rect x="510" y="229.8" width="5" height="3.9" fill="#6b0b0b"/>
<rect x="511" y="230.8" width="3" height="1.9" fill="#ff0000"/>
<rect x="518" y="227.3" width="1" height="12.2" fill="#000"/>
<rect x="516" y="232.4" width="5" height="2" fill="#6b0b0b"/>
<rect x="525" y="221.4" width="1" height="33.6" fill="#000"/>
<rect x="523" y="233.4" width="5" height="20.9" fill="#6b0b0b"/>
<rect x="524" y="234.4" width="3" height="18.9" fill="#ff0000"/>
<rect x="531" y="238.3" width="1" height="20.2" fill="#000"/>
<rect x="529" y="253.0" width="5" height="2" fill="#1d4a10"/>
<rect x="538" y="250.6" width="1" height="14.7" fill="#000"/>
<rect x="536" y="253.5" width="5" height="2.9" fill="#6b0b0b"/>
<rect x="537" y="254.5" width="3" height="0.9" fill="#ff0000"/>
<rect x="545" y="226.0" width="1" height="31.7" fill="#000"/>
<rect x="543" y="244.2" width="5" height="12.7" fill="#1d4a10"/>
<rect x="544" y="245.2" width="3" height="10.7" fill="#33701f"/>
<rect x="551" y="196.0" width="1" height="49.0" fill="#000"/>
<rect x="549" y="220.2" width="5" height="24.3" fill="#1d4a10"/>
<rect x="550" y="221.2" width="3" height="22.3" fill="#33701f"/>
<rect x="558" y="216.2" width="1" height="14.3" fill="#000"/>
<rect x="556" y="220.4" width="5" height="5.9" fill="#6b0b0b"/>
<rect x="557" y="221.4" width="3" height="3.9" fill="#ff0000"/>
<rect x="564" y="218.4" width="1" height="42.6" fill="#000"/>
<rect x="562" y="226.3" width="5" height="34.3" fill="#6b0b0b"/>
<rect x="563" y="227.3" width="3" height="32.3" fill="#ff0000"/>
<rect x="571" y="247.4" width="1" height="16.9" fill="#000"/>
<rect x="569" y="255.5" width="5" height="5.1" fill="#1d4a10"/>
<rect x="570" y="256.5" width="3" height="3.1" fill="#33701f"/>
<rect x="577" y="249.5" width="1" height="32.5" fill="#000"/>
<rect x="575" y="259.3" width="5" height="21.6" fill="#6b0b0b"/>
<rect x="576" y="260.3" width="3" height="19.6" fill="#ff0000"/>
<rect x="584" y="274.5" width="1" height="15.5" fill="#000"/>
<rect x="582" y="280.4" width="5" height="9.3" fill="#6b0b0b"/>
<rect x="583" y="281.4" width="3" height="7.3" fill="#ff0000"/>
<rect x="590" y="262.3" width="1" height="27.7" fill="#000"/>
<rect x="588" y="279.2" width="5" height="10.5" fill="#1d4a10"/>
<rect x="589" y="280.2" width="3" height="8.5" fill="#33701f"/>
<rect x="597" y="264.3" width="1" height="19.4" fill="#000"/>
<rect x="595" y="279.5" width="5" height="3.1" fill="#6b0b0b"/>
<rect x="596" y="280.5" width="3" height="1.1" fill="#ff0000"/>
<rect x="603" y="271.0" width="1" height="15.0" fill="#000"/>
<rect x="601" y="279.5" width="5" height="3.1" fill="#1d4a10"/>
<rect x="602" y="280.5" width="3" height="1.1" fill="#33701f"/>
<rect x="610" y="262.3" width="1" height="29.7" fill="#000"/>
<rect x="608" y="273.1" width="5" height="18.3" fill="#6b0b0b"/>
<rect x="609" y="274.1" width="3" height="16.3" fill="#ff0000"/>
<rect x="616" y="280.4" width="1" height="23.6" fill="#000"/>
<rect x="614" y="291.4" width="5" height="12.1" fill="#6b0b0b"/>
<rect x="615" y="292.4" width="3" height="10.1" fill="#ff0000"/>
<rect x="623" y="270.2" width="1" height="34.7" fill="#000"/>
<rect x="621" y="278.2" width="5" height="25.8" fill="#1d4a10"/>
<rect x="622" y="279.2" width="3" height="23.8" fill="#33701f"/>
<rect x="630" y="259.3" width="1" height="26.7" fill="#000"/>
<rect x="628" y="265.2" width="5" height="13.0" fill="#1d4a10"/>
<rect x="629" y="266.2" width="3" height="11.0" fill="#33701f"/>
<rect x="636" y="259.3" width="1" height="15.2" fill="#000"/>
<rect x="634" y="265.2" width="5" height="5.0" fill="#6b0b0b"/>
<rect x="635" y="266.2" width="3" height="3.0" fill="#ff0000"/>
<rect x="643" y="263.5" width="1" height="10.1" fill="#000"/>
<rect x="641" y="271.8" width="5" height="2" fill="#6b0b0b"/>
<rect x="649" y="236.0" width="1" height="39.3" fill="#000"/>
<rect x="647" y="241.0" width="5" height="32.6" fill="#1d4a10"/>
<rect x="648" y="242.0" width="3" height="30.6" fill="#33701f"/>
<rect x="656" y="226.6" width="1" height="18.7" fill="#000"/>
<rect x="654" y="233.5" width="5" height="7.9" fill="#1d4a10"/>
<rect x="655" y="234.5" width="3" height="5.9" fill="#33701f"/>
<rect x="662" y="201.0" width="1" height="33.0" fill="#000"/>
<rect x="660" y="220.3" width="5" height="12.6" fill="#1d4a10"/>
<rect x="661" y="221.3" width="3" height="10.6" fill="#33701f"/>
<rect x="669" y="207.9" width="1" height="15.8" fill="#000"/>
<rect x="667" y="216.4" width="5" height="3.9" fill="#1d4a10"/>
<rect x="668" y="217.4" width="3" height="1.9" fill="#33701f"/>
<rect x="675" y="208.9" width="1" height="37.4" fill="#000"/>
<rect x="673" y="212.4" width="5" height="26.0" fill="#6b0b0b"/>
<rect x="674" y="213.4" width="3" height="24.0" fill="#ff0000"/>
<rect x="682" y="231.0" width="1" height="28.1" fill="#000"/>
<rect x="680" y="238.4" width="5" height="13.8" fill="#6b0b0b"/>
<rect x="681" y="239.4" width="3" height="11.8" fill="#ff0000"/>
<rect x="688" y="242.0" width="1" height="22.4" fill="#000"/>
<rect x="686" y="252.2" width="5" height="2" fill="#6b0b0b"/>
<rect x="695" y="250.2" width="1" height="16.8" fill="#000"/>
<rect x="693" y="254.2" width="5" height="8.8" fill="#6b0b0b"/>
<rect x="694" y="255.2" width="3" height="6.8" fill="#ff0000"/>
<rect x="702" y="237.4" width="1" height="29.6" fill="#000"/>
<rect x="700" y="241.0" width="5" height="22.6" fill="#1d4a10"/>
<rect x="701" y="242.0" width="3" height="20.6" fill="#33701f"/>
<rect x="708" y="230.6" width="1" height="22.6" fill="#000"/>
<rect x="706" y="239.6" width="5" height="2" fill="#1d4a10"/>
<rect x="715" y="222.7" width="1" height="20.6" fill="#000"/>
<rect x="713" y="230.6" width="5" height="8.8" fill="#1d4a10"/>
<rect x="714" y="231.6" width="3" height="6.8" fill="#33701f"/>
<rect x="721" y="199.0" width="1" height="34.5" fill="#000"/>
<rect x="719" y="219.1" width="5" height="11.5" fill="#1d4a10"/>
<rect x="720" y="220.1" width="3" height="9.5" fill="#33701f"/>
<rect x="728" y="192.2" width="1" height="28.5" fill="#000"/>
<rect x="726" y="197.5" width="5" height="22.2" fill="#1d4a10"/>
<rect x="727" y="198.5" width="3" height="20.2" fill="#33701f"/>
<rect x="734" y="172.5" width="1" height="41.9" fill="#000"/>
<rect x="732" y="183.3" width="5" height="14.2" fill="#1d4a10"/>
<rect x="733" y="184.3" width="3" height="12.2" fill="#33701f"/>
<rect x="741" y="155.0" width="1" height="32.2" fill="#000"/>
<rect x="739" y="156.1" width="5" height="27.2" fill="#1d4a10"/>
<rect x="740" y="157.1" width="3" height="25.2" fill="#33701f"/>
<rect x="747" y="148.3" width="1" height="21.2" fill="#000"/>
<rect x="745" y="156.1" width="5" height="7.9" fill="#6b0b0b"/>
<rect x="746" y="157.1" width="3" height="5.9" fill="#ff0000"/>
<rect x="754" y="156.4" width="1" height="23.0" fill="#000"/>
<rect x="752" y="164.3" width="5" height="11.1" fill="#6b0b0b"/>
<rect x="753" y="165.3" width="3" height="9.1" fill="#ff0000"/>
<rect x="760" y="162.0" width="1" height="41.4" fill="#000"/>
<rect x="758" y="175.4" width="5" height="11.8" fill="#6b0b0b"/>
<rect x="759" y="176.4" width="3" height="9.8" fill="#ff0000"/>
<rect x="767" y="177.4" width="1" height="20.1" fill="#000"/>
<rect x="765" y="185.2" width="5" height="2" fill="#1d4a10"/>
<rect x="774" y="158.1" width="1" height="28.8" fill="#000"/>
<rect x="772" y="174.4" width="5" height="11.3" fill="#1d4a10"/>
<rect x="773" y="175.4" width="3" height="9.3" fill="#33701f"/>
<rect x="780" y="158.7" width="1" height="19.7" fill="#000"/>
<rect x="778" y="162.0" width="5" height="12.4" fill="#1d4a10"/>
<rect x="779" y="163.0" width="3" height="10.4" fill="#33701f"/>
<rect x="787" y="156.1" width="1" height="59.7" fill="#000"/>
<rect x="785" y="162.0" width="5" height="52.8" fill="#6b0b0b"/>
<rect x="786" y="163.0" width="3" height="50.8" fill="#ff0000"/>
<rect x="793" y="205.4" width="1" height="47.2" fill="#000"/>
<rect x="791" y="214.4" width="5" height="15.2" fill="#6b0b0b"/>
<rect x="792" y="215.4" width="3" height="13.2" fill="#ff0000"/>
<rect x="800" y="225.6" width="1" height="16.8" fill="#000"/>
<rect x="798" y="229.3" width="5" height="2" fill="#6b0b0b"/>
<rect x="806" y="214.4" width="1" height="26.0" fill="#000"/>
<rect x="804" y="221.1" width="5" height="10.4" fill="#1d4a10"/>
<rect x="805" y="222.1" width="3" height="8.4" fill="#33701f"/>
<rect x="813" y="207.9" width="1" height="23.6" fill="#000"/>
<rect x="811" y="221.1" width="5" height="4.5" fill="#6b0b0b"/>
<rect x="812" y="222.1" width="3" height="2.5" fill="#ff0000"/>
<rect x="819" y="222.3" width="1" height="26.0" fill="#000"/>
<rect x="817" y="225.6" width="5" height="15.8" fill="#6b0b0b"/>
<rect x="818" y="226.6" width="3" height="13.8" fill="#ff0000"/>
<rect x="826" y="223.0" width="1" height="22.3" fill="#000"/>
<rect x="824" y="232.1" width="5" height="9.3" fill="#1d4a10"/>
<rect x="825" y="233.1" width="3" height="7.3" fill="#33701f"/>
<rect x="832" y="219.7" width="1" height="31.5" fill="#000"/>
<rect x="830" y="232.5" width="5" height="4.9" fill="#6b0b0b"/>
<rect x="831" y="233.5" width="3" height="2.9" fill="#ff0000"/>
<rect x="839" y="214.4" width="1" height="26.0" fill="#000"/>
<rect x="837" y="221.1" width="5" height="16.3" fill="#1d4a10"/>
<rect x="838" y="222.1" width="3" height="14.3" fill="#33701f"/>
<rect x="846" y="214.4" width="1" height="28.0" fill="#000"/>
<rect x="844" y="221.1" width="5" height="11.0" fill="#6b0b0b"/>
<rect x="845" y="222.1" width="3" height="9.0" fill="#ff0000"/>
<rect x="852" y="220.2" width="1" height="27.8" fill="#000"/>
<rect x="850" y="232.4" width="5" height="15.1" fill="#6b0b0b"/>
<rect x="851" y="233.4" width="3" height="13.1" fill="#ff0000"/>
<rect x="859" y="225.6" width="1" height="31.1" fill="#000"/>
<rect x="857" y="231.2" width="5" height="16.4" fill="#1d4a10"/>
<rect x="858" y="232.2" width="3" height="14.4" fill="#33701f"/>
<rect x="865" y="216.6" width="1" height="19.1" fill="#000"/>
<rect x="863" y="221.5" width="5" height="9.7" fill="#1d4a10"/>
<rect x="864" y="222.5" width="3" height="7.7" fill="#33701f"/>
<rect x="872" y="193.6" width="1" height="30.9" fill="#000"/>
<rect x="870" y="200.4" width="5" height="22.9" fill="#1d4a10"/>
<rect x="871" y="201.4" width="3" height="20.9" fill="#33701f"/>
<rect x="878" y="177.2" width="1" height="23.6" fill="#000"/>
<rect x="876" y="190.0" width="5" height="10.4" fill="#1d4a10"/>
<rect x="877" y="191.0" width="3" height="8.4" fill="#33701f"/>
<rect x="885" y="156.9" width="1" height="33.8" fill="#000"/>
<rect x="883" y="159.1" width="5" height="30.9" fill="#1d4a10"/>
<rect x="884" y="160.1" width="3" height="28.9" fill="#33701f"/>
<rect x="891" y="149.0" width="1" height="50.0" fill="#000"/>
<rect x="889" y="159.1" width="5" height="32.2" fill="#6b0b0b"/>
<rect x="890" y="160.1" width="3" height="30.2" fill="#ff0000"/>
<rect x="898" y="185.0" width="1" height="13.6" fill="#000"/>
<rect x="896" y="191.8" width="5" height="6.3" fill="#6b0b0b"/>
<rect x="897" y="192.8" width="3" height="4.3" fill="#ff0000"/>
<rect x="904" y="194.0" width="1" height="9.5" fill="#000"/>
<rect x="902" y="197.1" width="5" height="2" fill="#6b0b0b"/>
<rect x="911" y="171.5" width="1" height="39.4" fill="#000"/>
<rect x="909" y="178.3" width="5" height="19.8" fill="#1d4a10"/>
<rect x="910" y="179.3" width="3" height="17.8" fill="#33701f"/>
<rect x="918" y="162.1" width="1" height="38.3" fill="#000"/>
<rect x="916" y="178.3" width="5" height="20.7" fill="#6b0b0b"/>
<rect x="917" y="179.3" width="3" height="18.7" fill="#ff0000"/>
<rect x="924" y="184.0" width="1" height="104.6" fill="#000"/>
<rect x="922" y="199.7" width="5" height="66.6" fill="#6b0b0b"/>
<rect x="923" y="200.7" width="3" height="64.6" fill="#ff0000"/>
<rect x="931" y="256.4" width="1" height="44.2" fill="#000"/>
<rect x="929" y="266.3" width="5" height="8.2" fill="#6b0b0b"/>
<rect x="930" y="267.3" width="3" height="6.2" fill="#ff0000"/>
<rect x="937" y="266.0" width="1" height="20.9" fill="#000"/>
<rect x="935" y="275.4" width="5" height="2" fill="#6b0b0b"/>
<rect x="944" y="258.1" width="1" height="18.9" fill="#000"/>
<rect x="942" y="274.4" width="5" height="2" fill="#1d4a10"/>
<rect x="950" y="268.0" width="1" height="20.2" fill="#000"/>
<rect x="948" y="274.4" width="5" height="6.0" fill="#6b0b0b"/>
<rect x="949" y="275.4" width="3" height="4.0" fill="#ff0000"/>
<rect x="957" y="276.4" width="1" height="34.9" fill="#000"/>
<rect x="955" y="280.4" width="5" height="19.6" fill="#6b0b0b"/>
<rect x="956" y="281.4" width="3" height="17.6" fill="#ff0000"/>
<rect x="963" y="285.7" width="1" height="33.0" fill="#000"/>
<rect x="961" y="298.0" width="5" height="2" fill="#1d4a10"/>
<rect x="970" y="279.4" width="1" height="20.6" fill="#000"/>
<rect x="968" y="293.1" width="5" height="5.6" fill="#1d4a10"/>
<rect x="969" y="294.1" width="3" height="3.6" fill="#33701f"/>
<rect x="976" y="289.2" width="1" height="27.2" fill="#000"/>
<rect x="974" y="293.1" width="5" height="20.1" fill="#6b0b0b"/>
<rect x="975" y="294.1" width="3" height="18.1" fill="#ff0000"/>
<rect x="983" y="309.3" width="1" height="40.7" fill="#000"/>
<rect x="981" y="313.2" width="5" height="36.1" fill="#6b0b0b"/>
<rect x="982" y="314.2" width="3" height="34.1" fill="#ff0000"/>
<rect x="989" y="331.5" width="1" height="24.6" fill="#000"/>
<rect x="987" y="333.5" width="5" height="15.8" fill="#1d4a10"/>
<rect x="988" y="334.5" width="3" height="13.8" fill="#33701f"/>
<rect x="996" y="321.1" width="1" height="23.2" fill="#000"/>
<rect x="994" y="333.5" width="5" height="3.9" fill="#6b0b0b"/>
<rect x="995" y="334.5" width="3" height="1.9" fill="#ff0000"/>
<rect x="1003" y="320.3" width="1" height="25.0" fill="#000"/>
<rect x="1001" y="331.5" width="5" height="5.9" fill="#1d4a10"/>
<rect x="1002" y="332.5" width="3" height="3.9" fill="#33701f"/>
<rect x="1009" y="325.0" width="1" height="39.6" fill="#000"/>
<rect x="1007" y="331.5" width="5" height="26.8" fill="#6b0b0b"/>
<rect x="1008" y="332.5" width="3" height="24.8" fill="#ff0000"/>
<rect x="1016" y="356.0" width="1" height="27.0" fill="#000"/>
<rect x="1014" y="358.2" width="5" height="24.3" fill="#6b0b0b"/>
<rect x="1015" y="359.2" width="3" height="22.3" fill="#ff0000"/>
<rect x="1022" y="361.9" width="1" height="21.7" fill="#000"/>
<rect x="1020" y="381.1" width="5" height="2" fill="#1d4a10"/>
<rect x="1029" y="354.1" width="1" height="31.5" fill="#000"/>
<rect x="1027" y="358.2" width="5" height="23.4" fill="#1d4a10"/>
<rect x="1028" y="359.2" width="3" height="21.4" fill="#33701f"/>
<rect x="1035" y="356.0" width="1" height="33.5" fill="#000"/>
<rect x="1033" y="358.2" width="5" height="28.1" fill="#6b0b0b"/>
<rect x="1034" y="359.2" width="3" height="26.1" fill="#ff0000"/>
<rect x="1042" y="374.0" width="1" height="22.8" fill="#000"/>
<rect x="1040" y="386.3" width="5" height="4.3" fill="#6b0b0b"/>
<rect x="1041" y="387.3" width="3" height="2.3" fill="#ff0000"/>
<rect x="1048" y="379.1" width="1" height="28.4" fill="#000"/>
<rect x="1046" y="390.6" width="5" height="4.7" fill="#6b0b0b"/>
<rect x="1047" y="391.6" width="3" height="2.7" fill="#ff0000"/>
<rect x="1055" y="379.1" width="1" height="21.6" fill="#000"/>
<rect x="1053" y="394.7" width="5" height="2" fill="#6b0b0b"/>
<rect x="1061" y="383.0" width="1" height="17.7" fill="#000"/>
<rect x="1059" y="394.4" width="5" height="2" fill="#1d4a10"/>
<rect x="1068" y="361.1" width="1" height="35.7" fill="#000"/>
<rect x="1066" y="368.1" width="5" height="26.5" fill="#1d4a10"/>
<rect x="1067" y="369.1" width="3" height="24.5" fill="#33701f"/>
<rect x="1075" y="357.1" width="1" height="17.5" fill="#000"/>
<rect x="1073" y="368.1" width="5" height="4.5" fill="#6b0b0b"/>
<rect x="1074" y="369.1" width="3" height="2.5" fill="#ff0000"/>
<rect x="1081" y="357.1" width="1" height="24.9" fill="#000"/>
<rect x="1079" y="372.4" width="5" height="9.0" fill="#6b0b0b"/>
<rect x="1080" y="373.4" width="3" height="7.0" fill="#ff0000"/>
<rect x="1088" y="355.2" width="1" height="32.6" fill="#000"/>
<rect x="1086" y="380.8" width="5" height="2" fill="#6b0b0b"/>
<rect x="1094" y="379.1" width="1" height="26.7" fill="#000"/>
<rect x="1092" y="382.2" width="5" height="22.5" fill="#6b0b0b"/>
<rect x="1093" y="383.2" width="3" height="20.5" fill="#ff0000"/>
<rect x="1101" y="380.0" width="1" height="25.0" fill="#000"/>
<rect x="1099" y="390.2" width="5" height="14.3" fill="#1d4a10"/>
<rect x="1100" y="391.2" width="3" height="12.3" fill="#33701f"/>
<rect x="1107" y="386.3" width="1" height="49.7" fill="#000"/>
<rect x="1105" y="390.1" width="5" height="45.2" fill="#6b0b0b"/>
<rect x="1106" y="391.1" width="3" height="43.2" fill="#ff0000"/>
<rect x="1114" y="411.0" width="1" height="25.0" fill="#000"/>
<rect x="1112" y="420.3" width="5" height="15.0" fill="#1d4a10"/>
<rect x="1113" y="421.3" width="3" height="13.0" fill="#33701f"/>
<rect x="1120" y="407.9" width="1" height="35.6" fill="#000"/>
<rect x="1118" y="420.3" width="5" height="17.0" fill="#6b0b0b"/>
<rect x="1119" y="421.3" width="3" height="15.0" fill="#ff0000"/>
<rect x="1127" y="428.5" width="1" height="18.1" fill="#000"/>
<rect x="1125" y="436.8" width="5" height="2" fill="#6b0b0b"/>
<rect x="1133" y="426.0" width="1" height="15.5" fill="#000"/>
<rect x="1131" y="434.2" width="5" height="4.2" fill="#1d4a10"/>
<rect x="1132" y="435.2" width="3" height="2.2" fill="#33701f"/>
<rect x="1140" y="424.2" width="1" height="15.5" fill="#000"/>
<rect x="1138" y="433.7" width="5" height="2" fill="#6b0b0b"/>
<rect x="1147" y="417.2" width="1" height="20.6" fill="#000"/>
<rect x="1145" y="424.2" width="5" height="11.1" fill="#1d4a10"/>
<rect x="1146" y="425.2" width="3" height="9.1" fill="#33701f"/>
<rect x="1153" y="411.0" width="1" height="14.0" fill="#000"/>
<rect x="1151" y="418.3" width="5" height="5.9" fill="#1d4a10"/>
<rect x="1152" y="419.3" width="3" height="3.9" fill="#33701f"/>
<rect x="1160" y="410.2" width="1" height="14.0" fill="#000"/>
<rect x="1158" y="414.1" width="5" height="4.2" fill="#1d4a10"/>
<rect x="1159" y="415.1" width="3" height="2.2" fill="#33701f"/>
<rect x="1166" y="412.0" width="1" height="27.7" fill="#000"/>
<rect x="1164" y="413.3" width="5" height="20.9" fill="#6b0b0b"/>
<rect x="1165" y="414.3" width="3" height="18.9" fill="#ff0000"/>
<rect x="1173" y="423.4" width="1" height="14.4" fill="#000"/>
<rect x="1171" y="433.2" width="5" height="2" fill="#6b0b0b"/>
<rect x="1179" y="430.4" width="1" height="15.5" fill="#000"/>
<rect x="1177" y="434.7" width="5" height="10.4" fill="#6b0b0b"/>
<rect x="1178" y="435.7" width="3" height="8.4" fill="#ff0000"/>
<rect x="1186" y="435.0" width="1" height="14.0" fill="#000"/>
<rect x="1184" y="441.5" width="5" height="3.1" fill="#1d4a10"/>
<rect x="1185" y="442.5" width="3" height="1.1" fill="#33701f"/>
<rect x="1192" y="439.3" width="1" height="24.7" fill="#000"/>
<rect x="1190" y="441.5" width="5" height="22.2" fill="#6b0b0b"/>
<rect x="1191" y="442.5" width="3" height="20.2" fill="#ff0000"/>
<rect x="1199" y="459.8" width="1" height="20.7" fill="#000"/>
<rect x="1197" y="464.5" width="5" height="15.1" fill="#6b0b0b"/>
<rect x="1198" y="465.5" width="3" height="13.1" fill="#ff0000"/>
<rect x="1205" y="455.1" width="1" height="26.5" fill="#000"/>
<rect x="1203" y="466.1" width="5" height="13.5" fill="#1d4a10"/>
<rect x="1204" y="467.1" width="3" height="11.5" fill="#33701f"/>
<rect x="1212" y="447.0" width="1" height="20.5" fill="#000"/>
<rect x="1210" y="455.4" width="5" height="10.9" fill="#1d4a10"/>
<rect x="1211" y="456.4" width="3" height="8.9" fill="#33701f"/>
<rect x="1219" y="447.0" width="1" height="19.7" fill="#000"/>
<rect x="1217" y="455.4" width="5" height="10.7" fill="#6b0b0b"/>
<rect x="1218" y="456.4" width="3" height="8.7" fill="#ff0000"/>
<rect x="1225" y="458.0" width="1" height="20.7" fill="#000"/>
<rect x="1223" y="465.6" width="5" height="9.7" fill="#6b0b0b"/>
<rect x="1224" y="466.6" width="3" height="7.7" fill="#ff0000"/>
<rect x="1232" y="472.0" width="1" height="21.7" fill="#000"/>
<rect x="1230" y="476.2" width="5" height="15.2" fill="#6b0b0b"/>
<rect x="1231" y="477.2" width="3" height="13.2" fill="#ff0000"/>
<rect x="1238" y="469.3" width="1" height="31.7" fill="#000"/>
<rect x="1236" y="480.5" width="5" height="10.9" fill="#1d4a10"/>
<rect x="1237" y="481.5" width="3" height="8.9" fill="#33701f"/>
<rect x="1245" y="465.0" width="1" height="33.7" fill="#000"/>
<rect x="1243" y="474.6" width="5" height="5.9" fill="#1d4a10"/>
<rect x="1244" y="475.6" width="3" height="3.9" fill="#33701f"/>
<rect x="1251" y="463.0" width="1" height="20.6" fill="#000"/>
<rect x="1249" y="474.6" width="5" height="6.7" fill="#6b0b0b"/>
<rect x="1250" y="475.6" width="3" height="4.7" fill="#ff0000"/>
<rect x="1258" y="457.1" width="1" height="27.6" fill="#000"/>
<rect x="1256" y="474.6" width="5" height="7.0" fill="#1d4a10"/>
<rect x="1257" y="475.6" width="3" height="5.0" fill="#33701f"/>
<rect x="1264" y="448.1" width="1" height="31.5" fill="#000"/>
<rect x="1262" y="449.2" width="5" height="25.7" fill="#1d4a10"/>
<rect x="1263" y="450.2" width="3" height="23.7" fill="#33701f"/>
<path d="M1291.2,476 L1297,409.5 M1281.8,421.9 L1297,409.5 L1309.2,423.9" fill="none" stroke="#f5372c" stroke-width="1.8" stroke-linejoin="round"/>
<path d="M1277.5,636.6 L1283.8,575.2 M1268.9,586.8 L1283.8,575.2 L1296.5,590.1" fill="none" stroke="#ee3445" stroke-width="1.8" stroke-linejoin="round"/>
<text x="1307.43" y="614.7" font-size="22.30" font-weight="normal" textLength="104.36" lengthAdjust="spacingAndGlyphs" stroke="#131722" stroke-width="0.35"><tspan fill="#131722">RSI biased</tspan></text>
<text x="1307.63" y="636.6" font-size="22.30" font-weight="normal" textLength="65.18" lengthAdjust="spacingAndGlyphs" stroke="#131722" stroke-width="0.35"><tspan fill="#131722">higher</tspan></text>
<path d="M1.4,653.6 L7.9,655.6 L14.4,660.9 L21.0,629.4 L27.5,635.3 L34.1,621.5 L40.6,624.5 L47.2,627.8 L53.7,632.4 L60.3,634.7 L66.8,617.2 L73.3,623.5 L79.9,633.9 L86.4,635.3 L93.0,619.2 L99.5,617.6 L106.1,626.5 L112.6,625.1 L119.1,627.4 L125.7,633.9 L132.2,633.3 L138.8,646.5 L145.3,618.6 L151.9,618.2 L158.4,636.3 L165.0,616.6 L171.5,605.2 L178.0,584.1 L184.6,563.5 L191.1,560.9 L197.7,585.5 L204.2,591.0 L210.8,591.0 L217.3,596.9 L223.9,609.7 L230.4,611.1 L236.9,616.6 L243.5,628.0 L250.0,632.0 L256.6,607.8 L263.1,605.2 L269.7,610.3 L276.2,605.2 L282.7,592.6 L289.3,609.7 L295.8,604.4 L302.4,554.6 L308.9,536.9 L315.5,553.6 L322.0,556.6 L328.6,557.0 L335.1,554.6 L341.6,583.1 L348.2,599.9 L354.7,582.2 L361.3,588.7 L367.8,599.3 L374.4,606.4 L380.9,623.5 L387.5,601.9 L394.0,613.7 L400.5,620.2 L407.1,597.3 L413.6,626.5 L420.2,636.3 L426.7,634.3 L433.3,644.2 L439.8,659.5 L446.3,652.4 L452.9,632.4 L459.4,608.1 L466.0,613.1 L472.5,615.0 L479.1,600.9 L485.6,592.0 L492.2,583.1 L498.7,580.2 L505.2,597.9 L511.8,599.9 L518.3,600.3 L524.9,610.7 L531.4,610.3 L538.0,612.3 L544.5,603.8 L551.1,588.7 L557.6,592.6 L564.1,612.3 L570.7,609.3 L577.2,622.5 L583.8,626.5 L590.3,619.6 L596.9,621.1 L603.4,618.2 L609.9,625.5 L616.5,632.0 L623.0,610.7 L629.6,600.9 L636.1,604.4 L642.7,606.2 L649.2,583.1 L655.8,578.2 L662.3,570.7 L668.8,567.8 L675.4,586.5 L681.9,596.9 L688.5,598.9 L695.0,605.2 L701.6,588.1 L708.1,587.1 L714.7,580.2 L721.2,572.3 L727.7,559.5 L734.3,550.7 L740.8,538.3 L747.4,546.7 L753.9,557.6 L760.5,569.0 L767.0,567.4 L773.5,560.5 L780.1,553.6 L786.6,596.9 L793.2,606.8 L799.7,608.3 L806.3,600.5 L812.8,603.8 L819.4,614.3 L825.9,606.8 L832.4,610.1 L839.0,597.3 L845.5,604.6 L852.1,616.2 L858.6,602.4 L865.2,594.6 L871.7,579.2 L878.3,572.9 L884.8,555.6 L891.3,581.6 L897.9,586.1 L904.4,586.7 L911.0,574.3 L917.5,590.6 L924.1,626.1 L930.6,629.4 L937.1,630.4 L943.7,628.4 L950.2,632.0 L956.8,640.6 L963.3,638.7 L969.9,634.7 L976.4,646.5 L983.0,658.3 L989.5,644.4 L996.0,646.1 L1002.6,640.6 L1009.1,653.0 L1015.7,660.9 L1022.2,659.9 L1028.8,638.7 L1035.3,650.5 L1041.9,652.0 L1048.4,653.6 L1054.9,654.0 L1061.5,651.7 L1068.0,625.9 L1074.6,628.4 L1081.1,632.8 L1087.7,633.7 L1094.2,646.1 L1100.7,631.8 L1107.3,652.4 L1113.8,639.6 L1120.4,646.1 L1126.9,647.1 L1133.5,643.6 L1140.0,643.8 L1146.6,632.0 L1153.1,626.5 L1159.6,621.1 L1166.2,634.3 L1172.7,634.9 L1179.3,640.6 L1185.8,637.3 L1192.4,650.5 L1198.9,658.3 L1205.5,642.6 L1212.0,630.4 L1218.5,637.3 L1225.1,642.6 L1231.6,651.1 L1238.2,637.9 L1244.7,631.8 L1251.3,635.9 L1257.8,628.0 L1264.3,602.4" fill="none" stroke="#9c27b0" stroke-width="1.5" stroke-linejoin="round"/>
<rect x="7" y="4" width="988" height="33.5" fill="#fff" fill-opacity="0.5"/>
<rect x="7" y="37.5" width="189" height="33.0" fill="#fff" fill-opacity="0.5"/>
<rect x="7" y="70.5" width="189" height="33.0" fill="#fff" fill-opacity="0.5"/>
<rect x="7" y="103.5" width="157" height="33.0" fill="#fff" fill-opacity="0.5"/>
<rect x="7" y="136.5" width="315.5" height="33.0" fill="#fff" fill-opacity="0.5"/>
<rect x="7" y="169.5" width="168" height="33.0" fill="#fff" fill-opacity="0.5"/>
<rect x="7" y="202.5" width="155.5" height="33.0" fill="#fff" fill-opacity="0.5"/>
<rect x="7" y="235.5" width="146.5" height="33.0" fill="#fff" fill-opacity="0.5"/>
<rect x="7" y="542" width="162" height="27" fill="#fff" fill-opacity="0.5"/>
<text x="13.41" y="29" font-size="22.20" font-weight="normal" textLength="181.12" lengthAdjust="spacingAndGlyphs" ><tspan fill="#4a4a4a">Euro / Swiss Franc</tspan></text>
<text x="212.02" y="29" font-size="22.20" font-weight="normal" textLength="24.13" lengthAdjust="spacingAndGlyphs" ><tspan fill="#4a4a4a">1D</tspan></text>
<text x="252.30" y="29" font-size="22.20" font-weight="normal" textLength="54.39" lengthAdjust="spacingAndGlyphs" ><tspan fill="#4a4a4a">FXCM</tspan></text>
<text x="322.97" y="29" font-size="22.20" font-weight="normal" textLength="117.07" lengthAdjust="spacingAndGlyphs" ><tspan fill="#4a4a4a">TradingView</tspan></text>
<circle cx="203.2" cy="22.3" r="1.7" fill="#b2b5be"/>
<circle cx="244.3" cy="22.3" r="1.7" fill="#b2b5be"/>
<circle cx="313.7" cy="22.3" r="1.7" fill="#b2b5be"/>
<circle cx="474.6" cy="20.8" r="12.4" fill="#089981" fill-opacity="0.15"/>
<circle cx="474.6" cy="20.8" r="5.6" fill="#089981"/>
<text x="508.28" y="28.7" font-size="17.80" font-weight="normal" textLength="76.45" lengthAdjust="spacingAndGlyphs" ><tspan fill="#4a4a4a" stroke="#4a4a4a" stroke-width="0.2">O</tspan><tspan fill="#17532e" stroke="#17532e" stroke-width="0.2">0.96254</tspan></text>
<text x="592.83" y="28.7" font-size="17.80" font-weight="normal" textLength="76.31" lengthAdjust="spacingAndGlyphs" ><tspan fill="#4a4a4a" stroke="#4a4a4a" stroke-width="0.2">H</tspan><tspan fill="#17532e" stroke="#17532e" stroke-width="0.2">0.96970</tspan></text>
<text x="676.79" y="28.7" font-size="17.80" font-weight="normal" textLength="73.96" lengthAdjust="spacingAndGlyphs" ><tspan fill="#4a4a4a" stroke="#4a4a4a" stroke-width="0.2">L</tspan><tspan fill="#17532e" stroke="#17532e" stroke-width="0.2">0.96110</tspan></text>
<text x="758.49" y="28.7" font-size="17.80" font-weight="normal" textLength="75.11" lengthAdjust="spacingAndGlyphs" ><tspan fill="#4a4a4a" stroke="#4a4a4a" stroke-width="0.2">C</tspan><tspan fill="#17532e" stroke="#17532e" stroke-width="0.2">0.96935</tspan></text>
<text x="842.01" y="28.7" font-size="17.80" font-weight="normal" textLength="70.67" lengthAdjust="spacingAndGlyphs" ><tspan fill="#17532e" stroke="#17532e" stroke-width="0.2">+0.00681</tspan></text>
<text x="919.83" y="28.7" font-size="17.80" font-weight="normal" textLength="67.33" lengthAdjust="spacingAndGlyphs" ><tspan fill="#17532e" stroke="#17532e" stroke-width="0.2">(+0.71%)</tspan></text>
<text x="12.96" y="60.9" font-size="18.20" font-weight="normal" textLength="103.63" lengthAdjust="spacingAndGlyphs" ><tspan fill="#4a4a4a" stroke="#4a4a4a" stroke-width="0.15">MA 200 close</tspan></text>
<text x="128.33" y="60.9" font-size="18.20" font-weight="normal" textLength="62.10" lengthAdjust="spacingAndGlyphs" ><tspan fill="#f23645" stroke="#f23645" stroke-width="0.15">1.02124</tspan></text>
<text x="13.39" y="93.9" font-size="18.20" font-weight="normal" textLength="103.29" lengthAdjust="spacingAndGlyphs" ><tspan fill="#4a4a4a" stroke="#4a4a4a" stroke-width="0.15">EMA 21 close</tspan></text>
<text x="127.86" y="93.9" font-size="18.20" font-weight="normal" textLength="62.85" lengthAdjust="spacingAndGlyphs" ><tspan fill="#0c2a9c" stroke="#0c2a9c" stroke-width="0.15">0.96867</tspan></text>
<text x="13.36" y="126.9" font-size="18.20" font-weight="normal" textLength="106.14" lengthAdjust="spacingAndGlyphs" ><tspan fill="#b2b5be" stroke="#b2b5be" stroke-width="0.15">BB 20 close 2</tspan></text>
<g transform="translate(144.8,119.7)" fill="none" stroke="#131722"><g mask="url(#eyecut)" stroke-width="1.5"><path d="M-10.6,0 C-7.5,-10 7.5,-10 10.6,0 C7.5,10 -7.5,10 -10.6,0 Z"/><circle cx="0" cy="0" r="3.6"/></g><path d="M-8.1,8.3 L8.2,-7.3" stroke-width="1.7" stroke-linecap="round"/></g>
<text x="13.32" y="159.6" font-size="18.20" font-weight="normal" textLength="159.10" lengthAdjust="spacingAndGlyphs" ><tspan fill="#4a4a4a" stroke="#4a4a4a" stroke-width="0.15">Ichimoku 9 26 52 26</tspan></text>
<text x="184.17" y="159.6" font-size="18.20" font-weight="normal" textLength="61.42" lengthAdjust="spacingAndGlyphs" ><tspan fill="#008000" stroke="#008000" stroke-width="0.15">0.96722</tspan></text>
<text x="254.76" y="159.6" font-size="18.20" font-weight="normal" textLength="62.64" lengthAdjust="spacingAndGlyphs" ><tspan fill="#ff0000" stroke="#ff0000" stroke-width="0.15">0.98865</tspan></text>
<text x="13.48" y="192.9" font-size="18.20" font-weight="normal" textLength="83.71" lengthAdjust="spacingAndGlyphs" ><tspan fill="#4a4a4a" stroke="#4a4a4a" stroke-width="0.15">MA 5 close</tspan></text>
<text x="109.46" y="192.9" font-size="18.20" font-weight="normal" textLength="62.24" lengthAdjust="spacingAndGlyphs" ><tspan fill="#1848b0" stroke="#1848b0" stroke-width="0.15">0.96327</tspan></text>
<text x="13.49" y="226.1" font-size="18.20" font-weight="normal" textLength="103.18" lengthAdjust="spacingAndGlyphs" ><tspan fill="#b2b5be" stroke="#b2b5be" stroke-width="0.15">EMA 55 close</tspan></text>
<g transform="translate(141.4,219.2)" fill="none" stroke="#131722"><g mask="url(#eyecut)" stroke-width="1.5"><path d="M-10.6,0 C-7.5,-10 7.5,-10 10.6,0 C7.5,10 -7.5,10 -10.6,0 Z"/><circle cx="0" cy="0" r="3.6"/></g><path d="M-8.1,8.3 L8.2,-7.3" stroke-width="1.7" stroke-linecap="round"/></g>
<text x="13.48" y="258.9" font-size="18.20" font-weight="normal" textLength="93.21" lengthAdjust="spacingAndGlyphs" ><tspan fill="#b2b5be" stroke="#b2b5be" stroke-width="0.15">MA 20 close</tspan></text>
<g transform="translate(132.6,251.8)" fill="none" stroke="#131722"><g mask="url(#eyecut)" stroke-width="1.5"><path d="M-10.6,0 C-7.5,-10 7.5,-10 10.6,0 C7.5,10 -7.5,10 -10.6,0 Z"/><circle cx="0" cy="0" r="3.6"/></g><path d="M-8.1,8.3 L8.2,-7.3" stroke-width="1.7" stroke-linecap="round"/></g>
<rect x="14.7" y="271.8" width="38.5" height="27.4" rx="4" fill="#fff" stroke="#d1d4dc" stroke-width="1"/>
<path d="M28.2,288.3 L33.6,283.6 L39,288.3" fill="none" stroke="#131722" stroke-width="1.7" stroke-linecap="round"/>
<text x="13.49" y="559.3" font-size="18.20" font-weight="normal" textLength="95.09" lengthAdjust="spacingAndGlyphs" ><tspan fill="#4a4a4a" stroke="#4a4a4a" stroke-width="0.15">RSI 14 close</tspan></text>
<text x="118.82" y="559.3" font-size="18.20" font-weight="normal" textLength="44.32" lengthAdjust="spacingAndGlyphs" ><tspan fill="#9c27b0" stroke="#9c27b0" stroke-width="0.15">47.44</tspan></text>
<rect x="1420" y="0" width="92" height="711" fill="#fff"/>
<path d="M0,529.5 H1512" stroke="#e0e3eb" stroke-width="1"/>
<path d="M1419.5,0 V711" stroke="#555" stroke-width="1"/>
<path d="M0,670.5 H1512" stroke="#555" stroke-width="1"/>
<text x="1434.13" y="51.2" font-size="18.80" font-weight="normal" textLength="67.43" lengthAdjust="spacingAndGlyphs" ><tspan fill="#4a4a4a">1.08000</tspan></text>
<text x="1434.13" y="124.4" font-size="18.80" font-weight="normal" textLength="67.43" lengthAdjust="spacingAndGlyphs" ><tspan fill="#4a4a4a">1.06000</tspan></text>
<text x="1434.13" y="197.7" font-size="18.80" font-weight="normal" textLength="67.43" lengthAdjust="spacingAndGlyphs" ><tspan fill="#4a4a4a">1.04000</tspan></text>
<text x="1434.13" y="270.9" font-size="18.80" font-weight="normal" textLength="67.43" lengthAdjust="spacingAndGlyphs" ><tspan fill="#4a4a4a">1.02000</tspan></text>
<text x="1434.13" y="344.1" font-size="18.80" font-weight="normal" textLength="67.43" lengthAdjust="spacingAndGlyphs" ><tspan fill="#4a4a4a">1.00000</tspan></text>
<text x="1434.72" y="417.4" font-size="18.80" font-weight="normal" textLength="66.84" lengthAdjust="spacingAndGlyphs" ><tspan fill="#4a4a4a">0.98000</tspan></text>
<text x="1434.72" y="490.6" font-size="18.80" font-weight="normal" textLength="66.84" lengthAdjust="spacingAndGlyphs" ><tspan fill="#4a4a4a">0.96000</tspan></text>
<path d="M1420,436 H1509 Q1512,436 1512,439 V459.4 Q1512,462.4 1509,462.4 H1420 Z" fill="#347a1f"/>
<text x="1434.22" y="455.8" font-size="18.60" font-weight="bold" textLength="67.55" lengthAdjust="spacingAndGlyphs" ><tspan fill="#fff">0.96935</tspan></text>
<text x="1432.44" y="25.7" font-size="19.30" font-weight="normal" textLength="33.39" lengthAdjust="spacingAndGlyphs" ><tspan fill="#3d3f48">CHF</tspan></text>
<path d="M1470.4,16.2 L1473.9,19.4 L1477.4,16.2" fill="none" stroke="#434651" stroke-width="1.5" stroke-linecap="round" stroke-linejoin="round"/>
<text x="1433.71" y="575.9" font-size="19.50" font-weight="normal" textLength="47.56" lengthAdjust="spacingAndGlyphs" ><tspan fill="#4a4a4a">60.00</tspan></text>
<text x="1433.90" y="630" font-size="19.50" font-weight="normal" textLength="47.37" lengthAdjust="spacingAndGlyphs" ><tspan fill="#4a4a4a">40.00</tspan></text>
<text x="-15.80" y="697.8" font-size="18.80" font-weight="normal" textLength="33.43" lengthAdjust="spacingAndGlyphs" ><tspan fill="#4a4a4a">Dec</tspan></text>
<text x="129.24" y="697.8" font-size="19.40" font-weight="normal" textLength="45.59" lengthAdjust="spacingAndGlyphs" stroke="#4a4a4a" stroke-width="0.55"><tspan fill="#4a4a4a">2022</tspan></text>
<text x="272.85" y="697.8" font-size="18.80" font-weight="normal" textLength="32.40" lengthAdjust="spacingAndGlyphs" ><tspan fill="#4a4a4a">Feb</tspan></text>
<text x="403.02" y="697.8" font-size="18.80" font-weight="normal" textLength="32.38" lengthAdjust="spacingAndGlyphs" ><tspan fill="#4a4a4a">Mar</tspan></text>
<text x="555.92" y="697.8" font-size="18.80" font-weight="normal" textLength="29.26" lengthAdjust="spacingAndGlyphs" ><tspan fill="#4a4a4a">Apr</tspan></text>
<text x="689.71" y="697.8" font-size="18.80" font-weight="normal" textLength="35.52" lengthAdjust="spacingAndGlyphs" ><tspan fill="#4a4a4a">May</tspan></text>
<text x="837.43" y="697.8" font-size="18.80" font-weight="normal" textLength="30.31" lengthAdjust="spacingAndGlyphs" ><tspan fill="#4a4a4a">Jun</tspan></text>
<text x="984.66" y="697.8" font-size="18.80" font-weight="normal" textLength="24.03" lengthAdjust="spacingAndGlyphs" ><tspan fill="#4a4a4a">Jul</tspan></text>
<text x="1117.40" y="697.8" font-size="18.80" font-weight="normal" textLength="33.45" lengthAdjust="spacingAndGlyphs" ><tspan fill="#4a4a4a">Aug</tspan></text>
<text x="1267.46" y="697.8" font-size="18.80" font-weight="normal" textLength="33.45" lengthAdjust="spacingAndGlyphs" ><tspan fill="#4a4a4a">Sep</tspan></text>
<g transform="translate(1468,692.4)" fill="none" stroke="#131722" stroke-width="1.5"><circle r="6.7"/><path d="M6.70,0.00 L10.20,0.00"/><path d="M4.74,4.74 L6.93,6.93"/><path d="M0.00,6.70 L0.00,10.20"/><path d="M-4.74,4.74 L-6.93,6.93"/><path d="M-6.70,0.00 L-10.20,0.00"/><path d="M-4.74,-4.74 L-6.93,-6.93"/><path d="M-0.00,-6.70 L-0.00,-10.20"/><path d="M4.74,-4.74 L6.93,-6.93"/></g>
<path d="M0.6,711 V3.5 Q0.6,0.6 3.5,0.6" fill="none" stroke="#dfe2ea" stroke-width="1.3"/>
</svg>
</body></html>
